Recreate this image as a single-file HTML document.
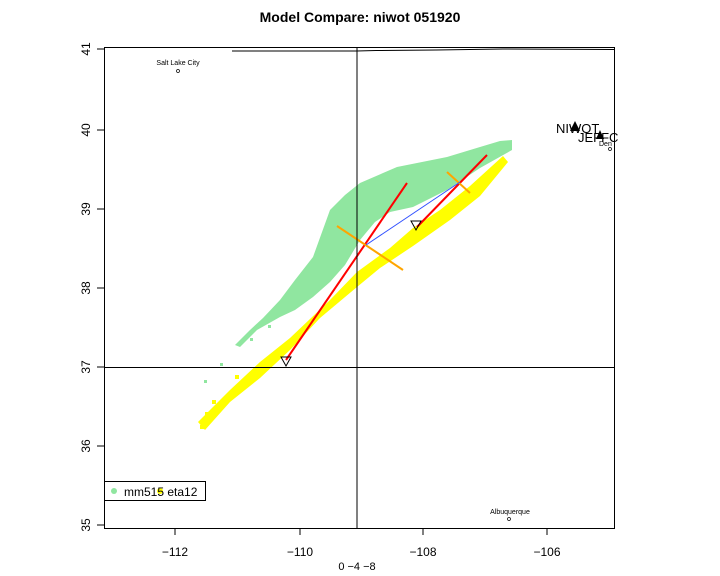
<!DOCTYPE html>
<html><head><style>body{margin:0;background:#fff}svg{display:block}</style></head><body>
<svg width="720" height="576" xmlns="http://www.w3.org/2000/svg" font-family="Liberation Sans, sans-serif">
<rect width="720" height="576" fill="#fff"/>
<text x="360" y="22" text-anchor="middle" font-size="14" font-weight="bold">Model Compare:  niwot 051920</text>
<!-- green cloud -->
<polygon fill="#90e6a0" points="330,210 345,195 360,183 397,167 447,157 480,147 500,141 512,140 512,150 480,168 447,190 413,207 390,212 375,222 360,240 345,265 330,282 313,297 295,310 280,317 257,330 240,347 235,345 250,330 263,318 280,300 295,280 313,257"/>
<!-- yellow band -->
<polygon fill="#ffff00" points="198,422 230,390 260,362 290,338 330,300 357,272 390,248 413,228 440,210 470,186 503,156 508,162 480,196 450,220 413,246 380,268 357,287 320,318 290,350 260,378 230,402 205,430"/>
<g fill="#90e6a0"><rect x="204" y="380" width="3" height="3"/><rect x="220" y="363" width="3" height="3"/><rect x="250" y="338" width="3" height="3"/><rect x="268" y="325" width="3" height="3"/><rect x="300" y="290" width="3" height="3"/><rect x="285" y="300" width="3" height="3"/><rect x="320" y="250" width="3" height="3"/></g>
<g fill="#ffff00"><rect x="205" y="412" width="4" height="4"/><rect x="200" y="425" width="4" height="4"/><rect x="212" y="400" width="4" height="4"/><rect x="235" y="375" width="4" height="4"/></g>
<!-- lines -->
<line x1="286" y1="360" x2="407" y2="183" stroke="#f00" stroke-width="2"/>
<line x1="417" y1="227" x2="487" y2="155" stroke="#f00" stroke-width="2"/>
<line x1="337" y1="226" x2="403" y2="270" stroke="#ffa500" stroke-width="2"/>
<line x1="447" y1="172" x2="470" y2="193" stroke="#ffa500" stroke-width="2"/>
<line x1="366" y1="245" x2="460" y2="182" stroke="#3050ff" stroke-width="1"/>
<polygon points="281,357 291,357 286,366" fill="none" stroke="#000"/>
<polygon points="411,221 421,221 416,230" fill="none" stroke="#000"/>
<!-- frame -->
<rect x="104.5" y="47.5" width="510" height="481" fill="none" stroke="#000"/>
<polyline points="232,51 357,51 376,50.5 436,50 503,49 614,49.5" fill="none" stroke="#000"/>
<line x1="357" y1="47" x2="357" y2="528" stroke="#000"/>
<line x1="104" y1="367.5" x2="614" y2="367.5" stroke="#000"/>
<!-- ticks -->
<g stroke="#000">
<line x1="175" y1="528" x2="175" y2="535"/><line x1="300" y1="528" x2="300" y2="535"/><line x1="423" y1="528" x2="423" y2="535"/><line x1="547" y1="528" x2="547" y2="535"/>
<line x1="97" y1="49" x2="104" y2="49"/><line x1="97" y1="130" x2="104" y2="130"/><line x1="97" y1="209" x2="104" y2="209"/><line x1="97" y1="288" x2="104" y2="288"/><line x1="97" y1="367" x2="104" y2="367"/><line x1="97" y1="446" x2="104" y2="446"/><line x1="97" y1="525" x2="104" y2="525"/>
</g>
<g font-size="12" text-anchor="middle">
<text x="175" y="556">−112</text><text x="300" y="556">−110</text><text x="423" y="556">−108</text><text x="547" y="556">−106</text>
<text x="357" y="570" font-size="11">0    −4    −8</text>
</g>
<g font-size="12" text-anchor="middle">
<text transform="translate(90,49) rotate(-90)">41</text>
<text transform="translate(90,130) rotate(-90)">40</text>
<text transform="translate(90,209) rotate(-90)">39</text>
<text transform="translate(90,288) rotate(-90)">38</text>
<text transform="translate(90,367) rotate(-90)">37</text>
<text transform="translate(90,446) rotate(-90)">36</text>
<text transform="translate(90,525) rotate(-90)">35</text>
</g>
<!-- cities -->
<text x="178" y="65" font-size="7" text-anchor="middle">Salt Lake City</text>
<circle cx="178" cy="71" r="1.5" fill="none" stroke="#000" stroke-width="0.7"/>
<text x="510" y="514" font-size="7" text-anchor="middle">Albuquerque</text>
<circle cx="509" cy="519" r="1.5" fill="none" stroke="#000" stroke-width="0.7"/>
<text x="556" y="133" font-size="13">NIWOT</text>
<polygon points="575,121 570,131 580,131" fill="#000"/>
<text x="578" y="142" font-size="13">JEFFC</text>
<polygon points="600,130 596,139 604,139" fill="#000"/>
<text x="599" y="146" font-size="7">Den</text>
<circle cx="610" cy="149" r="1.5" fill="none" stroke="#000" stroke-width="0.7"/>
<!-- legend -->
<rect x="104.5" y="481.5" width="101" height="19" fill="#fff" stroke="#000"/>
<circle cx="114" cy="491" r="3" fill="#90e6a0"/>
<circle cx="160" cy="491" r="3" fill="#ffff00"/>
<text x="124" y="496" font-size="12">mm515  eta12</text>
</svg>
</body></html>
